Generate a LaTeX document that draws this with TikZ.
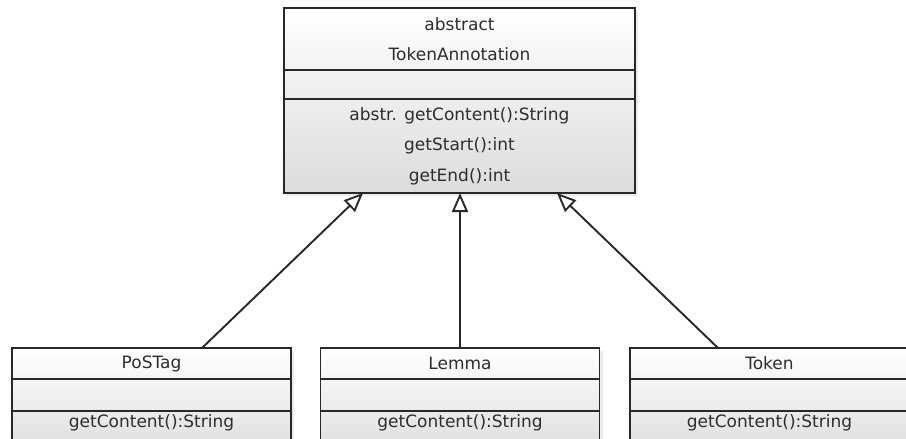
\documentclass[tikz,border=0pt]{standalone}
\usepackage{fontspec}
\setmainfont{DejaVu Sans}
\usetikzlibrary{arrows.meta, positioning, shadows}
\definecolor{umlLine}{RGB}{40, 40, 40}
\definecolor{umlText}{RGB}{45, 45, 45}
\definecolor{umlShade}{RGB}{220, 220, 220}

\begin{document}
\begin{tikzpicture}[x=1pt, y=-1pt,
    frame/.style={rectangle, top color=white, bottom color=umlShade, inner sep=0pt, outer sep=0pt, anchor=north west, drop shadow={shadow xshift=3pt, shadow yshift=-3pt, opacity=0.15}},
    part/.style={rectangle, draw=umlLine, line width=1.6pt, inner sep=0pt, outer sep=0pt, align=center, text=umlText, font=\fontsize{17}{30.5}\selectfont},
    opsCut/.style={part, text height=15pt, text depth=30pt},
    inherit/.style={-{Triangle[open, length=19pt, width=16pt, fill=white]}, line width=1.9pt, draw=umlLine}
  ]
    \useasboundingbox (0,0) rectangle (906,439);

    % abstract class
    \node[frame, minimum width=351pt, minimum height=185pt] (ta) at (284,8) {};
    \node[part, minimum width=351pt, minimum height=62pt, anchor=north] (taName) at (ta.north) {abstract\\TokenAnnotation};
    \node[part, minimum width=351pt, minimum height=29pt, below=0pt of taName] (taAttr) {};
    \node[part, minimum width=351pt, minimum height=94pt, below=0pt of taAttr] (taOps) {abstr. getContent():String\\getStart():int\\getEnd():int};

    % subclasses
    \node[frame, minimum width=279pt, minimum height=110pt] (ps) at (12,348) {};
    \node[part, minimum width=279pt, minimum height=31pt, anchor=north] (psName) at (ps.north) {PoSTag};
    \node[part, minimum width=279pt, minimum height=32pt, below=0pt of psName] (psAttr) {};
    \node[opsCut, minimum width=279pt, minimum height=47pt, below=0pt of psAttr] (psOps) {getContent():String};

    \node[frame, minimum width=279pt, minimum height=110pt] (lm) at (320.5,348) {};
    \node[part, minimum width=279pt, minimum height=31pt, anchor=north] (lmName) at (lm.north) {Lemma};
    \node[part, minimum width=279pt, minimum height=32pt, below=0pt of lmName] (lmAttr) {};
    \node[opsCut, minimum width=279pt, minimum height=47pt, below=0pt of lmAttr] (lmOps) {getContent():String};

    \node[frame, minimum width=279pt, minimum height=110pt] (tk) at (630,348) {};
    \node[part, minimum width=279pt, minimum height=31pt, anchor=north] (tkName) at (tk.north) {Token};
    \node[part, minimum width=279pt, minimum height=32pt, below=0pt of tkName] (tkAttr) {};
    \node[opsCut, minimum width=279pt, minimum height=47pt, below=0pt of tkAttr] (tkOps) {getContent():String};

    % generalisations
    \draw[inherit] ([xshift=50.5pt]psName.north) -- ([xshift=-96.5pt]taOps.south);
    \draw[inherit] (lmName.north) -- (lmName.north |- taOps.south);
    \draw[inherit] ([xshift=-51.5pt]tkName.north) -- ([xshift=97.5pt]taOps.south);
  \end{tikzpicture}
\end{document}
